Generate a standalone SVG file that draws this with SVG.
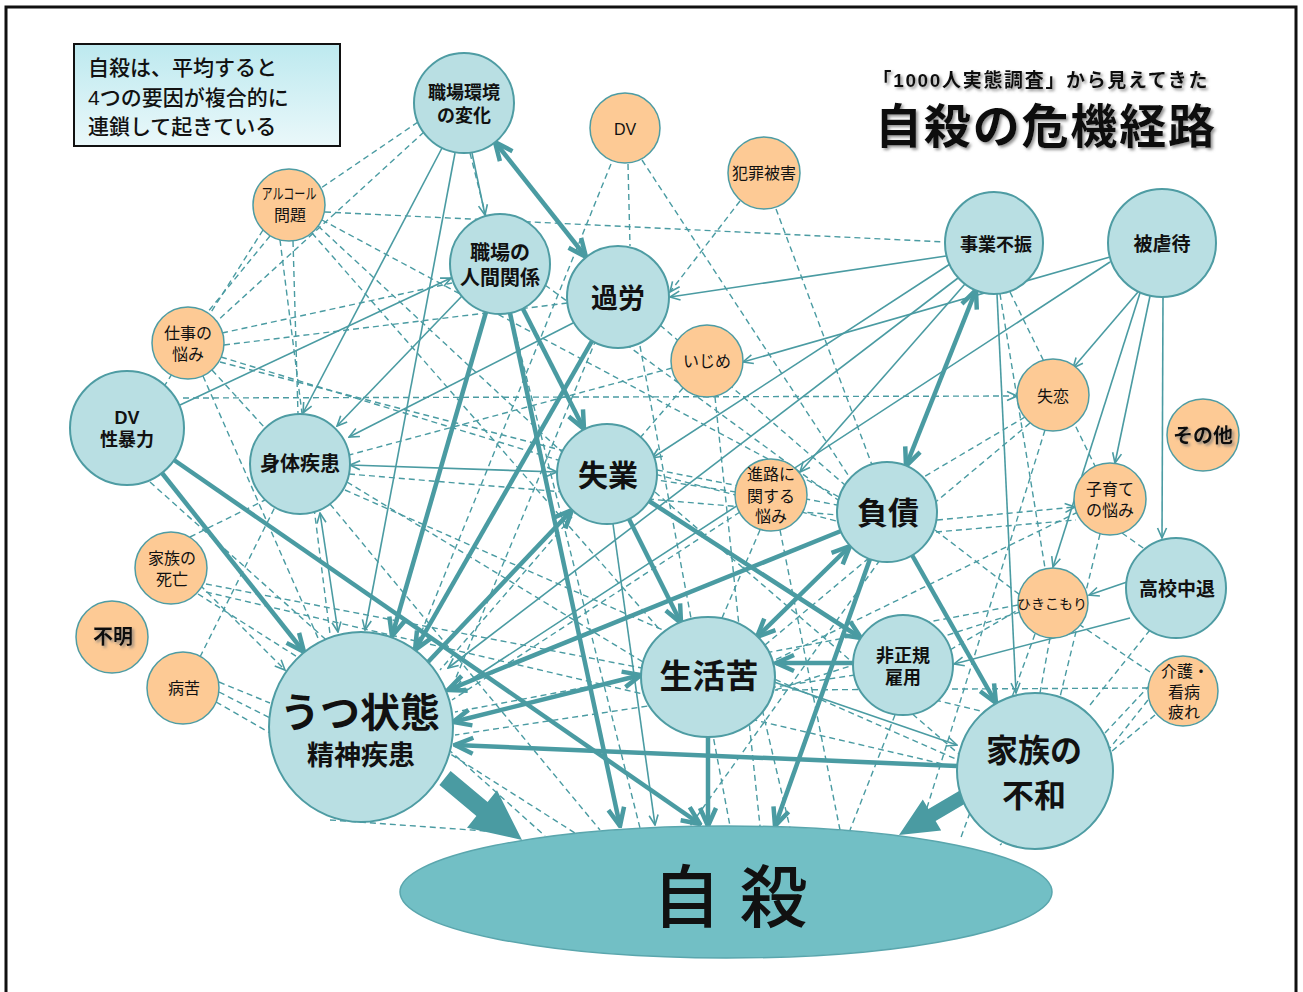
<svg xmlns="http://www.w3.org/2000/svg" width="1303" height="992" viewBox="0 0 1303 992">
<defs>
<style>
.n{fill:#b9dfe3;stroke:#4e9ca3;stroke-width:2}
.o{fill:#fdca95;stroke:#4e9ca3;stroke-width:1.5}
.k{stroke:#4a9ba2;stroke-width:4.5;fill:none}
.t{stroke:#4a9ba2;stroke-width:1.6;fill:none}
.d{stroke:#4a9ba2;stroke-width:1.4;fill:none;stroke-dasharray:6 4}
text{font-family:"Liberation Sans","Noto Sans CJK JP",sans-serif;text-anchor:middle;fill:#111}
.b{font-weight:700}
.r{font-weight:400}
</style>
<linearGradient id="gb" x1="0" y1="0" x2="0" y2="1"><stop offset="0" stop-color="#bde9ef"/><stop offset="1" stop-color="#eaf8fa"/></linearGradient>
<filter id="sh" x="-10%" y="-20%" width="130%" height="150%"><feDropShadow dx="2" dy="2" stdDeviation="1.5" flood-color="#777" flood-opacity="0.8"/></filter>
<marker id="ma" viewBox="0 0 12 12" refX="11" refY="6" markerWidth="12" markerHeight="12" markerUnits="userSpaceOnUse" orient="auto-start-reverse"><path d="M1,1.5 L11,6 L1,10.5" fill="none" stroke="#4a9ba2" stroke-width="1.6"/></marker>
<marker id="mk" viewBox="0 0 22 22" refX="20" refY="11" markerWidth="22" markerHeight="22" markerUnits="userSpaceOnUse" orient="auto-start-reverse"><path d="M2,3 L20,11 L2,19" fill="none" stroke="#4a9ba2" stroke-width="4.5"/></marker>
</defs>
<rect x="6" y="7" width="1290" height="1000" fill="#fff" stroke="#111" stroke-width="3"/>

<g id="title">
<rect x="74" y="44" width="266" height="102" fill="url(#gb)" stroke="#111" stroke-width="2"/>
<text font-size="21" style="text-anchor:start" font-weight="500"><tspan x="88" y="75">自殺は、平均すると</tspan><tspan x="88" y="105">4つの要因が複合的に</tspan><tspan x="88" y="134">連鎖して起きている</tspan></text>
<text x="1040" y="87" font-size="19" class="b" textLength="335" filter="url(#sh)">「1000人実態調査」から見えてきた</text>
<text x="1045" y="143" font-size="47" class="b" textLength="340" filter="url(#sh)">自殺の危機経路</text>
</g>

<g id="connectors">
<path class="d" d="M418,122 L321,188"/>
<path class="d" d="M424,132 L216,322"/>
<path class="d" d="M325,212 L945,242"/>
<path class="d" d="M270,236 L207,313"/>
<path class="d" d="M293,241 L298,414"/>
<path class="d" d="M280,240 L330,634"/>
<path class="d" d="M318,226 L562,452"/>
<path class="d" d="M322,220 L839,497"/>
<path class="d" d="M312,233 L660,630"/>
<path class="d" d="M263,230 L165,385"/>
<path class="d" d="M222,333 L452,283"/>
<path class="d" d="M224,345 L568,303"/>
<path class="d" d="M221,357 L558,460"/>
<path class="d" d="M212,370 L265,428"/>
<path class="d" d="M203,376 L318,638"/>
<path class="d" d="M220,362 L840,522"/>
<path class="d" d="M183,398 L1017,396" marker-end="url(#ma)"/>
<path class="d" d="M347,482 L643,662"/>
<path class="d" d="M330,504 L600,830"/>
<path class="d" d="M349,474 L838,515"/>
<path class="d" d="M345,490 L958,760"/>
<path class="d" d="M200,585 L285,670" marker-end="url(#ma)"/>
<path class="d" d="M206,584 L642,668"/>
<path class="d" d="M206,592 L960,768"/>
<path class="d" d="M190,537 L265,500"/>
<path class="d" d="M198,594 L575,833"/>
<path class="d" d="M219,682 L270,703"/>
<path class="d" d="M219,692 L270,718"/>
<path class="d" d="M216,702 L272,734"/>
<path class="d" d="M200,657 L275,507"/>
<path class="d" d="M611,164 L415,648"/>
<path class="d" d="M628,164 L630,246"/>
<path class="d" d="M642,160 L850,478"/>
<path class="d" d="M740,201 L670,292" marker-end="url(#ma)"/>
<path class="d" d="M776,209 L872,465"/>
<path class="d" d="M672,368 L349,455"/>
<path class="d" d="M683,388 L440,670"/>
<path class="d" d="M715,397 L760,826"/>
<path class="d" d="M736,492 L657,480"/>
<path class="d" d="M740,512 L452,700"/>
<path class="d" d="M760,530 L722,618"/>
<path class="d" d="M780,530 L840,830"/>
<path class="d" d="M1025,417 L922,478"/>
<path class="d" d="M1030,423 L765,645"/>
<path class="d" d="M1045,430 L920,830"/>
<path class="d" d="M937,520 L1075,507" marker-end="url(#ma)"/>
<path class="d" d="M936,532 L1076,520"/>
<path class="d" d="M1100,534 L1060,697"/>
<path class="d" d="M1078,512 L775,660"/>
<path class="d" d="M1122,533 L1146,550"/>
<path class="d" d="M1018,605 L455,712"/>
<path class="d" d="M1020,612 L775,690"/>
<path class="d" d="M1050,638 L1040,693"/>
<path class="d" d="M1035,634 L960,840"/>
<path class="d" d="M1148,700 L1110,748"/>
<path class="d" d="M1150,685 L1105,733"/>
<path class="d" d="M1150,672 L1080,625"/>
<path class="d" d="M1148,688 L775,690"/>
<path class="d" d="M1155,715 L1000,845"/>
<path class="d" d="M1150,630 L1090,705"/>
<path class="d" d="M895,715 L850,830"/>
<path class="d" d="M855,675 L455,735"/>
<path class="d" d="M150,482 L545,836"/>
<path class="d" d="M470,153 L640,828"/>
<path class="d" d="M660,325 L845,485"/>
<path class="d" d="M640,346 L730,826"/>
<path class="d" d="M545,285 L838,500"/>
<path class="d" d="M655,492 L960,755"/>
<path class="d" d="M657,470 L837,505"/>
<path class="d" d="M1010,292 L1095,466"/>
<path class="d" d="M1000,294 L1045,568"/>
<path class="d" d="M935,530 L1020,595"/>
<path class="d" d="M950,650 L1018,610"/>
<path class="d" d="M935,700 L985,712"/>
<path class="d" d="M600,330 L455,680"/>
<path class="d" d="M880,560 L690,826"/>
<path class="d" d="M760,700 L790,828"/>
<path class="d" d="M330,820 L500,832"/>
<path class="t" d="M472,153 L485,215" marker-end="url(#ma)"/>
<path class="t" d="M442,148 L303,413" marker-end="url(#ma)"/>
<path class="t" d="M455,153 L365,630" marker-end="url(#ma)"/>
<path class="t" d="M180,405 L451,278" marker-end="url(#ma)"/>
<path class="t" d="M946,256 L670,297" marker-end="url(#ma)"/>
<path class="t" d="M1110,257 L743,362" marker-end="url(#ma)"/>
<path class="t" d="M1138,292 L1073,368" marker-end="url(#ma)"/>
<path class="t" d="M1150,296 L1115,463" marker-end="url(#ma)"/>
<path class="t" d="M1163,297 L1162,538" marker-end="url(#ma)"/>
<path class="t" d="M1140,293 L1053,567" marker-end="url(#ma)"/>
<path class="t" d="M997,294 L1016,693" marker-end="url(#ma)"/>
<path class="t" d="M1127,582 L1089,595" marker-end="url(#ma)"/>
<path class="t" d="M1130,618 L954,664" marker-end="url(#ma)"/>
<path class="t" d="M350,465 L557,472" marker-start="url(#ma)" marker-end="url(#ma)"/>
<path class="t" d="M320,513 L338,632" marker-start="url(#ma)" marker-end="url(#ma)"/>
<path class="t" d="M613,524 L655,825" marker-end="url(#ma)"/>
<path class="t" d="M575,322 L349,437" marker-end="url(#ma)"/>
<path class="t" d="M462,296 L337,426" marker-end="url(#ma)"/>
<path class="t" d="M774,682 L957,745" marker-end="url(#ma)"/>
<path class="t" d="M965,284 L800,472" marker-end="url(#ma)"/>
<path class="t" d="M958,278 L448,668" marker-end="url(#ma)"/>
<path class="t" d="M1110,262 L455,690" marker-end="url(#ma)"/>
<path class="t" d="M950,264 L652,458" marker-end="url(#ma)"/>
<path class="k" d="M495,142 L586,257" marker-start="url(#mk)" marker-end="url(#mk)"/>
<path class="k" d="M486,312 L392,636" marker-end="url(#mk)"/>
<path class="k" d="M510,313 L620,826" marker-end="url(#mk)"/>
<path class="k" d="M523,309 L584,429" marker-end="url(#mk)"/>
<path class="k" d="M592,341 L415,650" marker-end="url(#mk)"/>
<path class="k" d="M976,290 L906,466" marker-start="url(#mk)" marker-end="url(#mk)"/>
<path class="k" d="M162,473 L304,652" marker-end="url(#mk)"/>
<path class="k" d="M174,460 L700,824" marker-end="url(#mk)"/>
<path class="k" d="M428,662 L572,510" marker-end="url(#mk)"/>
<path class="k" d="M629,519 L681,623" marker-end="url(#mk)"/>
<path class="k" d="M649,501 L861,638" marker-end="url(#mk)"/>
<path class="k" d="M841,531 L448,690" marker-end="url(#mk)"/>
<path class="k" d="M850,546 L757,637" marker-start="url(#mk)" marker-end="url(#mk)"/>
<path class="k" d="M870,559 L775,826" marker-end="url(#mk)"/>
<path class="k" d="M912,555 L996,703" marker-end="url(#mk)"/>
<path class="k" d="M853,663 L776,663" marker-end="url(#mk)"/>
<path class="k" d="M708,737 L708,826" marker-end="url(#mk)"/>
<path class="k" d="M957,766 L455,745" marker-end="url(#mk)"/>
<path class="k" d="M453,722 L641,675" marker-start="url(#mk)" marker-end="url(#mk)"/>
<polygon fill="#4a9ba2" points="450.6,771 487.6,802 497,790.3 522,840 467,827.7 476.4,816 439.4,785"/>
<polygon fill="#4a9ba2" points="962.4,789 928.4,809 922.8,799.5 899,835 941.2,830.5 935.6,821 969.6,801"/>
</g>

<g id="n-jisatsu"><ellipse cx="726" cy="892" rx="326" ry="66" fill="#72bfc5" stroke="#5aa6ad" stroke-width="1.5"/><text x="730" y="922" font-size="68" font-weight="500">自 殺</text></g>
<g id="n-shokuba-kankyo"><circle class="n" cx="464" cy="103" r="50"/><text class="b" font-size="18"><tspan x="464" y="99">職場環境</tspan><tspan x="464" y="122">の変化</tspan></text></g>
<g id="n-dv"><circle class="o" cx="625" cy="128" r="35"/><text class="r" x="625" y="135" font-size="16">DV</text></g>
<g id="n-hanzai"><circle class="o" cx="764" cy="173" r="36"/><text class="r" x="764" y="179" font-size="16">犯罪被害</text></g>
<g id="n-alcohol"><circle class="o" cx="289" cy="205" r="36"/><text class="r" font-size="15"><tspan x="289" y="199" textLength="55" lengthAdjust="spacingAndGlyphs">アルコール</tspan><tspan x="290" y="221" font-size="16">問題</tspan></text></g>
<g id="n-ningen"><circle class="n" cx="500" cy="264" r="50"/><text class="b" font-size="20"><tspan x="500" y="260">職場の</tspan><tspan x="500" y="285">人間関係</tspan></text></g>
<g id="n-karou"><circle class="n" cx="618" cy="297" r="51"/><text class="b" x="618" y="308" font-size="27">過労</text></g>
<g id="n-jigyou"><ellipse class="n" cx="994" cy="243" rx="49" ry="51"/><text class="b" x="996" y="251" font-size="18">事業不振</text></g>
<g id="n-gyakutai"><circle class="n" cx="1162" cy="243" r="54"/><text class="b" x="1162" y="251" font-size="19">被虐待</text></g>
<g id="n-shigoto"><circle class="o" cx="188" cy="343" r="36"/><text class="r" font-size="16"><tspan x="188" y="339">仕事の</tspan><tspan x="188" y="360">悩み</tspan></text></g>
<g id="n-dvsei"><circle class="n" cx="127" cy="428" r="57"/><text class="b" font-size="18"><tspan x="127" y="424">DV</tspan><tspan x="127" y="446">性暴力</tspan></text></g>
<g id="n-shintai"><circle class="n" cx="300" cy="464" r="50"/><text class="b" x="300" y="471" font-size="20">身体疾患</text></g>
<g id="n-shitsugyou"><circle class="n" cx="607" cy="474" r="50"/><text class="b" x="608" y="486" font-size="30">失業</text></g>
<g id="n-kazokushi"><circle class="o" cx="171" cy="568" r="36"/><text class="r" font-size="16"><tspan x="172" y="564">家族の</tspan><tspan x="172" y="585">死亡</tspan></text></g>
<g id="n-fumei"><circle class="o" cx="112" cy="637" r="36"/><text class="b" x="113" y="644" font-size="20" filter="url(#sh)">不明</text></g>
<g id="n-byouku"><circle class="o" cx="183" cy="688" r="36"/><text class="r" x="184" y="694" font-size="16">病苦</text></g>
<g id="n-utsu"><ellipse class="n" cx="361" cy="727" rx="92" ry="95" stroke-width="3"/><text class="b"><tspan x="360" y="727" font-size="40">うつ状態</tspan><tspan x="361" y="765" font-size="27">精神疾患</tspan></text></g>
<g id="n-seikatsu"><ellipse class="n" cx="708" cy="677" rx="67" ry="60"/><text class="b" x="709" y="688" font-size="33">生活苦</text></g>
<g id="n-hiseiki"><circle class="n" cx="903" cy="665" r="50"/><text class="b" font-size="18"><tspan x="903" y="662">非正規</tspan><tspan x="903" y="684">雇用</tspan></text></g>
<g id="n-fuwa"><circle class="n" cx="1035" cy="771" r="78" stroke-width="3"/><text class="b" font-size="32"><tspan x="1034" y="762">家族の</tspan><tspan x="1034" y="807">不和</tspan></text></g>
<g id="n-kaigo"><circle class="o" cx="1183" cy="691" r="35"/><text class="r" font-size="16"><tspan x="1185" y="677">介護・</tspan><tspan x="1184" y="698">看病</tspan><tspan x="1184" y="718">疲れ</tspan></text></g>
<g id="n-koukou"><circle class="n" cx="1176" cy="588" r="50"/><text class="b" x="1177" y="596" font-size="19">高校中退</text></g>
<g id="n-hikikomori"><circle class="o" cx="1053" cy="603" r="35"/><text class="r" x="1052" y="609" font-size="14">ひきこもり</text></g>
<g id="n-kosodate"><circle class="o" cx="1110" cy="499" r="36"/><text class="r" font-size="16"><tspan x="1110" y="495">子育て</tspan><tspan x="1110" y="516">の悩み</tspan></text></g>
<g id="n-shitsuren"><circle class="o" cx="1053" cy="395" r="36"/><text class="r" x="1053" y="402" font-size="16">失恋</text></g>
<g id="n-sonota"><circle class="o" cx="1203" cy="435" r="36"/><text class="b" x="1203" y="443" font-size="20" filter="url(#sh)">その他</text></g>
<g id="n-fusai"><circle class="n" cx="887" cy="512" r="50"/><text class="b" x="888" y="524" font-size="31">負債</text></g>
<g id="n-shinro"><circle class="o" cx="771" cy="495" r="36"/><text class="r" font-size="16"><tspan x="771" y="480">進路に</tspan><tspan x="771" y="502">関する</tspan><tspan x="771" y="522">悩み</tspan></text></g>
<g id="n-ijime"><circle class="o" cx="707" cy="361" r="36"/><text class="r" x="707" y="367" font-size="16">いじめ</text></g>
</svg>
